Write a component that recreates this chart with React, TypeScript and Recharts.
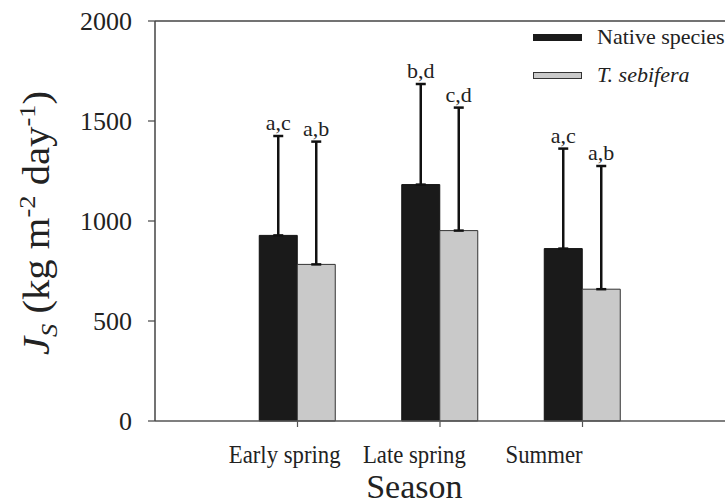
import { Bar, BarChart, ErrorBar, LabelList, Label, Legend, ReferenceLine, XAxis, YAxis } from "recharts";

const seasons = ["Early spring", "Late spring", "Summer"];
const nativeValues = [928, 1182, 862];
const nativeSD = [497, 503, 500];
const nativeLetters = ["a,c", "b,d", "a,c"];
const sebiferaValues = [783, 952, 659];
const sebiferaSD = [614, 615, 616];
const sebiferaLetters = ["a,b", "c,d", "a,b"];
const yTicks = [0, 500, 1000, 1500, 2000];

const data = seasons.map((season, i) => ({
  season,
  native: nativeValues[i],
  nativeErr: [0, nativeSD[i]],
  nativeLetter: nativeLetters[i],
  sebifera: sebiferaValues[i],
  sebiferaErr: [0, sebiferaSD[i]],
  sebiferaLetter: sebiferaLetters[i],
}));

const FONT = "'Liberation Serif', 'Times New Roman', serif";
const AXIS_LEFT = 155;
const SQUEEZE = 0.91; // text layer in the figure is a little narrower than the plot

const SeasonTick = (props: any) => {
  const { x, y, payload } = props;
  const lx = AXIS_LEFT + (x - AXIS_LEFT) * SQUEEZE;
  return (
    <text
      transform={`translate(${lx} ${y}) scale(${SQUEEZE} 1)`}
      textAnchor="middle"
      dy="0.71em"
      fontFamily={FONT}
      fontSize={25}
      fill="#222"
    >
      {payload.value}
    </text>
  );
};

const SeasonLabel = (props: any) => {
  const { x, y, width } = props.viewBox;
  const cx = x + (width / 2) * SQUEEZE;
  return (
    <text x={cx} y={y + 77} textAnchor="middle" fontFamily={FONT} fontSize={34} fill="#222">
      Season
    </text>
  );
};

const YTitle = (props: any) => {
  const { y, height } = props.viewBox;
  const cy = y + height / 2 + 2;
  return (
    <text
      transform={`translate(49 ${cy}) scale(1 1.1) rotate(-90)`}
      textAnchor="middle"
      fontFamily={FONT}
      fontSize={37}
      fill="#222"
    >
      <tspan fontStyle="italic">J</tspan>
      <tspan fontStyle="italic" fontSize={24} dy={8}>S</tspan>
      <tspan dy={-8}> (kg m</tspan>
      <tspan fontSize={24} dy={-14}>-2</tspan>
      <tspan dy={14}> day</tspan>
      <tspan fontSize={24} dy={-14}>-1</tspan>
      <tspan dy={14}>)</tspan>
    </text>
  );
};

const letterLabel = (sd: number[]) => (props: any) => {
  const { x, y, width, height, value, index } = props;
  const barValue = sd === nativeSD ? nativeValues[index] : sebiferaValues[index];
  const pxPerUnit = height / barValue;
  const top = y - sd[index] * pxPerUnit;
  return (
    <text x={x + width / 2} y={top - 6} textAnchor="middle" fontFamily={FONT} fontSize={22} fill="#222">
      {value}
    </text>
  );
};

const LegendBox = () => (
  <div style={{ fontFamily: FONT, fontSize: 22, color: "#222", textAlign: "left" }}>
    <div style={{ display: "flex", alignItems: "center", height: 30 }}>
      <div style={{ width: 49, height: 7, background: "#1a1a1a", marginRight: 15, flexShrink: 0 }} />
      <span style={{ whiteSpace: "nowrap" }}>Native species</span>
    </div>
    <div style={{ display: "flex", alignItems: "center", height: 30, marginTop: 8 }}>
      <div
        style={{
          width: 47,
          height: 5,
          background: "#c9c9c9",
          border: "1px solid #333",
          marginRight: 15,
          flexShrink: 0,
        }}
      />
      <span style={{ fontStyle: "italic", whiteSpace: "nowrap" }}>T. sebifera</span>
    </div>
  </div>
);

export default function App() {
  return (
    <div
      style={{ position: "absolute", left: 0, top: 0, width: 725, height: 504, background: "#fff", overflow: "hidden" }}
    >
      <BarChart
        width={725}
        height={504}
        data={data}
        margin={{ top: 21, right: 0, bottom: 0, left: 0 }}
        barSize={38}
        barGap={0}
      >
        <XAxis
          dataKey="season"
          height={83}
          interval={0}
          padding={{ left: 71.25, right: 71.25 }}
          tickSize={6}
          tickMargin={18}
          tick={<SeasonTick />}
          axisLine={{ stroke: "#555", strokeWidth: 1.5 }}
          tickLine={{ stroke: "#555", strokeWidth: 1.2 }}
        >
          <Label content={SeasonLabel} />
        </XAxis>
        <YAxis
          width={155}
          domain={[0, 2000]}
          ticks={yTicks}
          interval={0}
          tickSize={7}
          tickMargin={16}
          tick={{ fontFamily: FONT, fontSize: 26, fill: "#222" }}
          axisLine={{ stroke: "#444", strokeWidth: 1.5 }}
          tickLine={{ stroke: "#444", strokeWidth: 1.2 }}
        >
          <Label content={YTitle} />
        </YAxis>
        <ReferenceLine y={2000} stroke="#444" strokeWidth={1.5} />
        <Legend
          verticalAlign="middle"
          align="center"
          content={<LegendBox />}
          wrapperStyle={{ top: 22, left: 533, right: "auto", bottom: "auto", width: 200 }}
        />
        <Bar dataKey="native" fill="#1a1a1a" stroke="#111" strokeWidth={1} isAnimationActive={false}>
          <ErrorBar dataKey="nativeErr" direction="y" width={5} stroke="#111" strokeWidth={2.5} />
          <LabelList dataKey="nativeLetter" content={letterLabel(nativeSD)} />
        </Bar>
        <Bar dataKey="sebifera" fill="#c9c9c9" stroke="#333" strokeWidth={1} isAnimationActive={false}>
          <ErrorBar dataKey="sebiferaErr" direction="y" width={5} stroke="#111" strokeWidth={2.5} />
          <LabelList dataKey="sebiferaLetter" content={letterLabel(sebiferaSD)} />
        </Bar>
      </BarChart>
    </div>
  );
}
